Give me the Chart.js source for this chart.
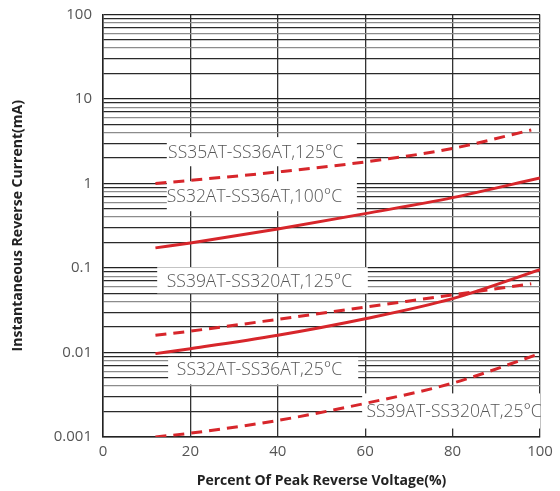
<!DOCTYPE html>
<html>
<head>
<meta charset="utf-8">
<script src="https://cdn.jsdelivr.net/npm/chart.js@4"></script>
<style>
  html, body { margin: 0; padding: 0; background: #fff; }
  #wrap { width: 560px; height: 491px; }
</style>
</head>
<body>
<div id="wrap"><canvas id="chart" width="560" height="491"></canvas></div>
<script>
// x values (% of peak reverse voltage)
const voltageFull = [12, 20, 40, 60, 80, 100];
const voltageShort = [12, 20, 40, 60, 80, 98];

// reverse current, mA
const ss35_36_125 = [1.0, 1.09, 1.37, 1.80, 2.60, 4.3];
const ss32_36_100 = [0.173, 0.198, 0.29, 0.44, 0.68, 1.165];
const ss39_320_125 = [0.016, 0.0179, 0.0247, 0.0345, 0.048, 0.065];
const ss32_36_25 = [0.0097, 0.0111, 0.016, 0.0251, 0.0434, 0.0957];
const ss39_320_25 = [0.001, 0.00111, 0.00157, 0.0025, 0.00434, 0.0097];

const yDecades = [0.001, 0.01, 0.1, 1, 10, 100];
const yTickLabels = ['0.001', '0.01', '0.1', '1', '10', '100'];
const xTicks = [0, 20, 40, 60, 80, 100];

// curve captions: text anchor + white box, both in data units
const captions = [
    { text: 'SS35AT-SS36AT,125°C', x: 14.9, y: 2.30, box: [14.6, 58.1, 3.54, 1.60] },
    { text: 'SS32AT-SS36AT,100°C', x: 14.6, y: 0.694, box: [14.6, 58.1, 1.065, 0.47] },
    { text: 'SS39AT-SS320AT,125°C', x: 14.6, y: 0.0677, box: [12.4, 60.6, 0.102, 0.0501] },
    { text: 'SS32AT-SS36AT,25°C', x: 16.9, y: 0.00614, box: [14.9, 58.4, 0.00875, 0.00419] },
    { text: 'SS39AT-SS320AT,25°C', x: 60.3, y: 0.00195, box: [59.3, 100, 0.00328, 0.00126] },
];

const RED = '#d7262b';
const pts = (xs, ys) => xs.map((x, i) => ({ x, y: ys[i] }));

function line(data, dashed) {
    return {
        data,
        borderColor: RED,
        borderWidth: 3,
        borderDash: dashed ? [11, 7] : [],
        pointRadius: 0,
        cubicInterpolationMode: 'monotone',
        fill: false,
    };
}

const captionPlugin = {
    id: 'captions',
    beforeDatasetsDraw(chart) {
        const { ctx, scales: { x, y } } = chart;
        ctx.save();
        captions.forEach(c => {
            const [x0, x1, y0, y1] = c.box;
            const l = x.getPixelForValue(x0), r = x.getPixelForValue(x1);
            const t = y.getPixelForValue(y0), b = y.getPixelForValue(y1);
            ctx.fillStyle = '#fff';
            ctx.fillRect(l, t, r - l, b - t);
        });
        ctx.fillStyle = '#555';
        ctx.font = '300 17.5px "Open Sans"';
        ctx.textAlign = 'left';
        ctx.textBaseline = 'middle';
        captions.forEach(c => {
            ctx.fillText(c.text, x.getPixelForValue(c.x), y.getPixelForValue(c.y));
        });
        ctx.restore();
    }
};

function isDecade(v) {
    return yDecades.some(d => Math.abs(v - d) / d < 1e-6);
}

new Chart(document.getElementById('chart'), {
    type: 'line',
    data: {
        datasets: [
            line(pts(voltageShort, ss35_36_125), true),
            line(pts(voltageFull, ss32_36_100), false),
            line(pts(voltageShort, ss39_320_125), true),
            line(pts(voltageFull, ss32_36_25), false),
            line(pts(voltageFull, ss39_320_25), true),
        ]
    },
    options: {
        responsive: false,
        animation: false,
        layout: { padding: { top: 14.5, right: 20, bottom: 0, left: 0 } },
        plugins: { legend: { display: false }, tooltip: { enabled: false } },
        scales: {
            x: {
                type: 'linear',
                min: 0, max: 100,
                afterFit(s) { s.height = 54; },
                afterBuildTicks(s) { s.ticks = xTicks.map(v => ({ value: v })); },
                grid: { color: '#333', lineWidth: 1.3, drawTicks: false },
                border: { color: '#222', width: 1.5 },
                ticks: { color: '#555', padding: 6, font: { family: 'Open Sans', size: 15 } },
                title: {
                    display: true,
                    text: 'Percent Of Peak Reverse Voltage(%)',
                    color: '#222',
                    padding: { top: 0, bottom: 2 },
                    font: { family: 'Open Sans', size: 14, weight: 'bold' }
                }
            },
            y: {
                type: 'logarithmic',
                min: 0.001, max: 100,
                afterFit(s) {
                    s.width = 103;
                    s.paddingTop = 0;
                    s.paddingBottom = 0;
                },
                afterBuildTicks(s) {
                    const ticks = [];
                    yDecades.forEach((d, i) => {
                        if (i === yDecades.length - 1) { ticks.push({ value: d }); return; }
                        for (let k = 1; k <= 9; k++) ticks.push({ value: +(d * k).toPrecision(3) });
                    });
                    s.ticks = ticks;
                },
                grid: {
                    drawTicks: false,
                    lineWidth: 1.3,
                    color: ctx => {
                        const v = ctx.tick ? ctx.tick.value : 1;
                        if (isDecade(v)) return '#222';
                        const k = Math.round(v / Math.pow(10, Math.floor(Math.log10(v) + 1e-9)));
                        return [2, 3, 5, 7, 9].includes(k) ? '#2a2a2a' : '#8c8c8c';
                    }
                },
                border: { color: '#222', width: 1.5 },
                ticks: {
                    autoSkip: false,
                    padding: 11,
                    color: '#555',
                    font: { family: 'Open Sans', size: 15 },
                    callback: v => {
                        const i = yDecades.findIndex(d => Math.abs(v - d) / d < 1e-6);
                        return i >= 0 ? yTickLabels[i] : '';
                    }
                },
                title: {
                    display: true,
                    text: 'Instantaneous Reverse Current(mA)',
                    color: '#222',
                    padding: { top: 10, bottom: 0 },
                    font: { family: 'Open Sans', size: 14, weight: 'bold' }
                }
            }
        }
    },
    plugins: [captionPlugin]
});
</script>
</body>
</html>
